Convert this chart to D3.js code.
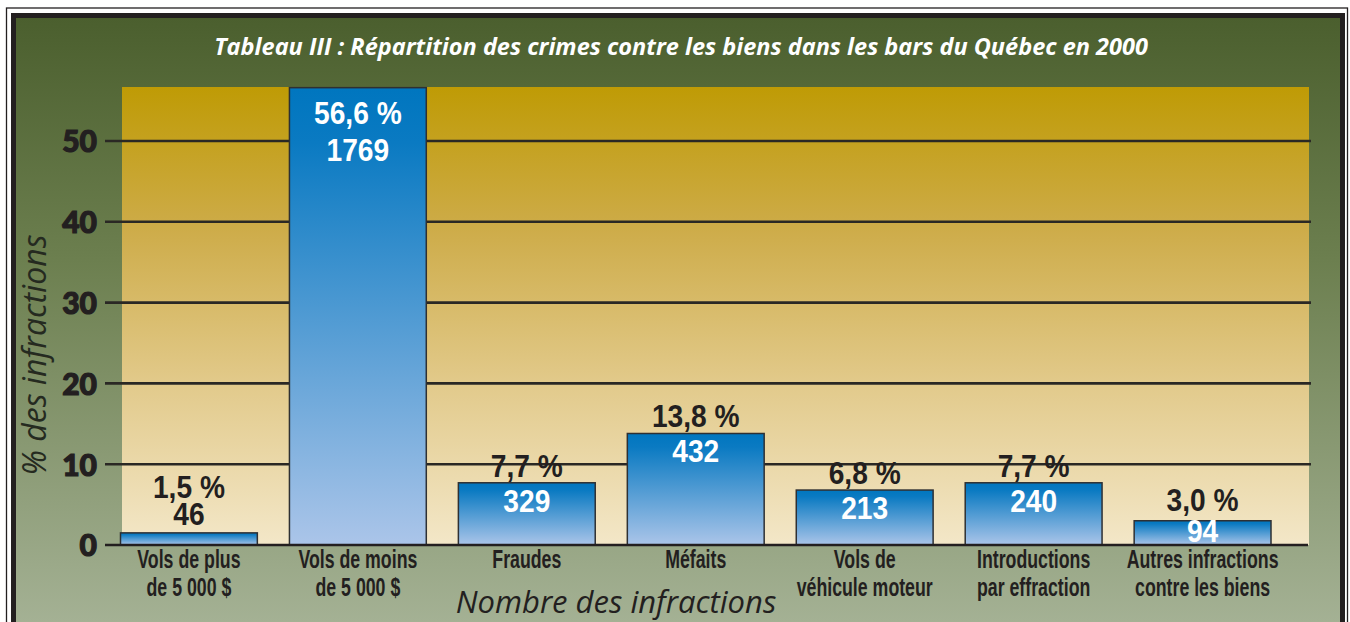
<!DOCTYPE html>
<html>
<head>
<meta charset="utf-8">
<script src="https://cdn.jsdelivr.net/npm/d3@7"></script>
<style>
  html, body { margin: 0; padding: 0; background: #ffffff; }
  svg { display: block; }
</style>
</head>
<body>
<script>
// ---- Data ----
const categories = [
  ["Vols de plus", "de 5 000 $"],
  ["Vols de moins", "de 5 000 $"],
  ["Fraudes"],
  ["Méfaits"],
  ["Vols de", "véhicule moteur"],
  ["Introductions", "par effraction"],
  ["Autres infractions", "contre les biens"]
];
const percentValues = [1.5, 56.6, 7.7, 13.8, 6.8, 7.7, 3.0];
const counts = [46, 1769, 329, 432, 213, 240, 94];
const yTicks = [0, 10, 20, 30, 40, 50];
const titleText = "Tableau III : Répartition des crimes contre les biens dans les bars du Québec en 2000";
const yTitle = "% des infractions";
const xTitle = "Nombre des infractions";

// ---- Setup ----
const W = 1350, H = 622;
const condensed = "'Liberation Sans', Arial, sans-serif";
const dark = "#231f20";

const svg = d3.select("body").append("svg").attr("width", W).attr("height", H);
const defs = svg.append("defs");

const bgGrad = defs.append("linearGradient").attr("id", "bgGrad")
  .attr("gradientUnits", "userSpaceOnUse").attr("x1", 0).attr("y1", 18).attr("x2", 0).attr("y2", 622);
bgGrad.append("stop").attr("offset", 0).attr("stop-color", "#4b5f2e");
bgGrad.append("stop").attr("offset", 0.4).attr("stop-color", "#6c7f4f");
bgGrad.append("stop").attr("offset", 1).attr("stop-color", "#a4b194");

const panelGrad = defs.append("linearGradient").attr("id", "panelGrad")
  .attr("x1", 0).attr("y1", 0).attr("x2", 0).attr("y2", 1);
panelGrad.append("stop").attr("offset", 0).attr("stop-color", "#bf9b05");
panelGrad.append("stop").attr("offset", 0.3).attr("stop-color", "#cdab47");
panelGrad.append("stop").attr("offset", 0.65).attr("stop-color", "#e2ca8b");
panelGrad.append("stop").attr("offset", 1).attr("stop-color", "#f3e7c8");

const barGrad = defs.append("linearGradient").attr("id", "barGrad")
  .attr("x1", 0).attr("y1", 0).attr("x2", 0).attr("y2", 1);
barGrad.append("stop").attr("offset", 0).attr("stop-color", "#0076bf");
barGrad.append("stop").attr("offset", 0.12).attr("stop-color", "#0a7ac2");
barGrad.append("stop").attr("offset", 1).attr("stop-color", "#abc5e9");

// Frame
svg.append("rect").attr("x", 6.5).attr("y", 8).attr("width", 1341).attr("height", 700)
  .attr("fill", "none").attr("stroke", dark).attr("stroke-width", 1.3);
svg.append("rect").attr("x", 13.5).attr("y", 15.5).attr("width", 1329).attr("height", 700)
  .attr("fill", "url(#bgGrad)").attr("stroke", dark).attr("stroke-width", 5);

// Scales
const x = d3.scaleBand().domain(d3.range(categories.length))
  .range([120.5, 1271]).paddingInner(0.19).paddingOuter(0);
const y = d3.scaleLinear().domain([0, 50]).range([545, 141]);

// Panel
const panelTop = 87, panelLeft = 122, panelRight = 1309;
svg.append("rect").attr("x", panelLeft).attr("y", panelTop)
  .attr("width", panelRight - panelLeft).attr("height", y(0) - panelTop)
  .attr("fill", "url(#panelGrad)");

// Gridlines + axis labels
const yAxis = d3.axisLeft(y).tickValues(yTicks).tickSize(0).tickPadding(0).tickFormat(d3.format("d"));
const gAxis = svg.append("g").attr("transform", "translate(97,0)").call(yAxis);
gAxis.select(".domain").remove();
gAxis.selectAll("text")
  .attr("fill", dark).attr("stroke", dark).attr("stroke-width", 1.2)
  .attr("font-family", "Lato, 'Open Sans', sans-serif")
  .attr("font-weight", 900).attr("font-size", 30).attr("dy", "0.36em");

svg.append("g").selectAll("line").data(yTicks.filter(d => d > 0)).join("line")
  .attr("x1", 105).attr("x2", 1311)
  .attr("y1", d => y(d)).attr("y2", d => y(d))
  .attr("stroke", "#2a2824").attr("stroke-width", 2.6);

// Bars
const bars = svg.append("g");
bars.selectAll("rect").data(percentValues).join("rect")
  .attr("x", (d, i) => x(i)).attr("width", x.bandwidth())
  .attr("y", d => y(d)).attr("height", d => y(0) - y(d))
  .attr("fill", "url(#barGrad)").attr("stroke", "#2e3033").attr("stroke-width", 1.5);

// Baseline
svg.append("line").attr("x1", 105).attr("x2", 1308).attr("y1", y(0)).attr("y2", y(0))
  .attr("stroke", dark).attr("stroke-width", 2.6);

// Helper for condensed text (horizontal squeeze)
function condText(g, cx, cy, str, size, sx, fill) {
  return g.append("text")
    .attr("transform", `translate(${cx},${cy}) scale(${sx},1)`)
    .attr("text-anchor", "middle")
    .attr("font-family", condensed).attr("font-weight", "bold")
    .attr("font-size", size).attr("fill", fill).text(str);
}

// Value labels
const fmtPct = v => d3.format(".1f")(v).replace(".", ",") + " %";
const labels = svg.append("g");
percentValues.forEach((v, i) => {
  const top = y(v), h = y(0) - top, cx = x(i) + x.bandwidth() / 2;
  let pctY, cntY, pctFill, cntFill;
  if (h < 18) {
    pctY = top - 35; cntY = top - 8; pctFill = dark; cntFill = dark;
  } else if (h > 150) {
    pctY = top + 36; cntY = top + 73; pctFill = "#ffffff"; cntFill = "#ffffff";
  } else if (h < 30) {
    pctY = top - 10; cntY = top + h - 3; pctFill = dark; cntFill = "#ffffff";
  } else {
    pctY = top - 6; cntY = top + 29; pctFill = dark; cntFill = "#ffffff";
  }
  condText(labels, cx, pctY, fmtPct(v), 32, 0.88, pctFill);
  condText(labels, cx, cntY, counts[i], 32, 0.88, cntFill);
});

// Category labels
const catG = svg.append("g");
categories.forEach((lines, i) => {
  const cx = x(i) + x.bandwidth() / 2;
  lines.forEach((ln, j) => condText(catG, cx, 568 + j * 28, ln, 25, 0.71, dark));
});

// Titles
svg.append("text").attr("x", 681).attr("y", 55).attr("text-anchor", "middle")
  .attr("font-family", "'Open Sans', sans-serif").attr("font-weight", "bold").attr("font-style", "italic")
  .attr("font-size", 23.5).attr("fill", "#ffffff").text(titleText);

svg.append("text").attr("transform", "translate(46,355) rotate(-90)").attr("text-anchor", "middle")
  .attr("font-family", "'Open Sans', sans-serif").attr("font-style", "italic")
  .attr("font-size", 32).attr("fill", "#252a20").text(yTitle);

svg.append("text").attr("x", 616).attr("y", 613).attr("text-anchor", "middle")
  .attr("font-family", "'Open Sans', sans-serif").attr("font-style", "italic")
  .attr("font-size", 31).attr("fill", dark).text(xTitle);
</script>
</body>
</html>
